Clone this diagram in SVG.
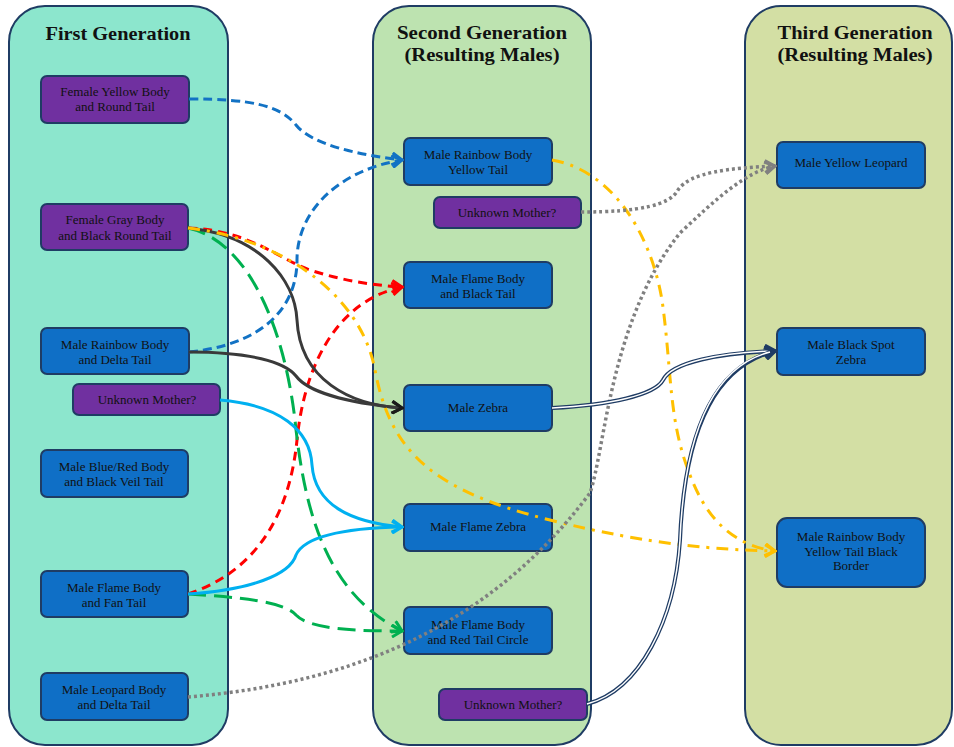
<svg xmlns="http://www.w3.org/2000/svg" width="954" height="747" viewBox="0 0 954 747">
<style>
.col{stroke:#1f3c64;stroke-width:2}
.hdr{font-family:"Liberation Serif","DejaVu Serif",serif;font-weight:bold;font-size:19px;fill:#111;text-anchor:middle}
.nb{fill:#0f6fc6;stroke:#1f3c64;stroke-width:2}
.np{fill:#7030a0;stroke:#1f3c64;stroke-width:2}
.t{font-family:"Liberation Serif","DejaVu Serif",serif;font-size:13px;fill:#111;text-anchor:middle}
.c{fill:none}
.blue{stroke:#1272c4;stroke-width:3;stroke-dasharray:9 5}
.red{stroke:#ff0000;stroke-width:3;stroke-dasharray:9 6}
.blk{stroke:#3a3a3a;stroke-width:3}
.yel{stroke:#ffc000;stroke-width:3;stroke-dasharray:12 7 3 7}
.grn{stroke:#00b050;stroke-width:3;stroke-dasharray:18 8}
.cyan{stroke:#00b0f0;stroke-width:3}
.gray{stroke:#808080;stroke-width:3.5;stroke-dasharray:3 3}
.nv{stroke:#1f3c64;stroke-width:4}
.nvi{stroke:#ffffff;stroke-width:1.5}
</style>
<defs>
<marker id="aBlue" markerUnits="userSpaceOnUse" viewBox="0 0 14 14" refX="12" refY="7" markerWidth="14" markerHeight="14" orient="auto"><path d="M2,1 L12,7 L2,13" fill="none" stroke="#1272c4" stroke-width="3"/></marker>
<marker id="aRed" markerUnits="userSpaceOnUse" viewBox="0 0 14 14" refX="12" refY="7" markerWidth="14" markerHeight="14" orient="auto"><path d="M2,1 L12,7 L2,13" fill="none" stroke="#ff0000" stroke-width="3"/></marker>
<marker id="aBlk" markerUnits="userSpaceOnUse" viewBox="0 0 14 14" refX="12" refY="7" markerWidth="14" markerHeight="14" orient="auto"><path d="M2,1 L12,7 L2,13" fill="none" stroke="#1a1a1a" stroke-width="3"/></marker>
<marker id="aYel" markerUnits="userSpaceOnUse" viewBox="0 0 14 14" refX="12" refY="7" markerWidth="14" markerHeight="14" orient="auto"><path d="M2,1 L12,7 L2,13" fill="none" stroke="#ffc000" stroke-width="3"/></marker>
<marker id="aGrn" markerUnits="userSpaceOnUse" viewBox="0 0 14 14" refX="12" refY="7" markerWidth="14" markerHeight="14" orient="auto"><path d="M2,1 L12,7 L2,13" fill="none" stroke="#00b050" stroke-width="3"/></marker>
<marker id="aCyan" markerUnits="userSpaceOnUse" viewBox="0 0 14 14" refX="12" refY="7" markerWidth="14" markerHeight="14" orient="auto"><path d="M2,1 L12,7 L2,13" fill="none" stroke="#00b0f0" stroke-width="3"/></marker>
<marker id="aGray" markerUnits="userSpaceOnUse" viewBox="0 0 14 14" refX="12" refY="7" markerWidth="14" markerHeight="14" orient="auto"><path d="M2,1 L12,7 L2,13" fill="none" stroke="#808080" stroke-width="3"/></marker>
<marker id="aNv" markerUnits="userSpaceOnUse" viewBox="0 0 14 14" refX="12" refY="7" markerWidth="14" markerHeight="14" orient="auto"><path d="M2,1 L12,7 L2,13" fill="none" stroke="#1f3c64" stroke-width="3.5"/></marker>
</defs>
<g id="columns">
<rect id="col1" class="col" x="9" y="6" width="219" height="739" rx="36" fill="#8ce6cd"/>
<rect id="col2" class="col" x="373" y="6" width="218" height="739" rx="36" fill="#bde3b0"/>
<rect id="col3" class="col" x="745" y="6" width="207" height="739" rx="36" fill="#d3dfa4"/>
<text class="hdr" x="118" y="40" textLength="145" lengthAdjust="spacingAndGlyphs">First Generation</text>
<text class="hdr" x="482" y="39" textLength="170" lengthAdjust="spacingAndGlyphs">Second Generation</text>
<text class="hdr" x="482" y="61" textLength="155" lengthAdjust="spacingAndGlyphs">(Resulting Males)</text>
<text class="hdr" x="855" y="39" textLength="155" lengthAdjust="spacingAndGlyphs">Third Generation</text>
<text class="hdr" x="855" y="61" textLength="155" lengthAdjust="spacingAndGlyphs">(Resulting Males)</text>
</g>
<g id="n1"><rect class="np" x="41" y="76" width="148" height="47" rx="6"/><text class="t" x="115" y="96">Female Yellow Body</text><text class="t" x="115" y="111">and Round Tail</text></g>
<g id="n2"><rect class="np" x="41" y="204" width="147" height="46" rx="6"/><text class="t" x="115" y="224">Female Gray Body</text><text class="t" x="115" y="240">and Black Round  Tail</text></g>
<g id="n3"><rect class="nb" x="41" y="328" width="148" height="46" rx="6"/><text class="t" x="115" y="349">Male Rainbow  Body</text><text class="t" x="115" y="364">and Delta  Tail</text></g>
<g id="n4"><rect class="np" x="73" y="384" width="147" height="31" rx="6"/><text class="t" x="147" y="404">Unknown  Mother?</text></g>
<g id="n5"><rect class="nb" x="41" y="450" width="147" height="47" rx="6"/><text class="t" x="114" y="471">Male Blue/Red  Body</text><text class="t" x="114" y="486">and Black Veil  Tail</text></g>
<g id="n6"><rect class="nb" x="41" y="571" width="147" height="46" rx="6"/><text class="t" x="114" y="592">Male Flame Body</text><text class="t" x="114" y="607">and Fan  Tail</text></g>
<g id="n7"><rect class="nb" x="41" y="673" width="147" height="47" rx="6"/><text class="t" x="114" y="694">Male Leopard  Body</text><text class="t" x="114" y="709">and Delta Tail</text></g>
<g id="m1"><rect class="nb" x="404" y="138" width="148" height="47" rx="6"/><text class="t" x="478" y="159">Male Rainbow  Body</text><text class="t" x="478" y="174">Yellow Tail</text></g>
<g id="m2"><rect class="np" x="434" y="197" width="147" height="31" rx="6"/><text class="t" x="507" y="217">Unknown  Mother?</text></g>
<g id="m3"><rect class="nb" x="404" y="262" width="148" height="46" rx="6"/><text class="t" x="478" y="283">Male Flame  Body</text><text class="t" x="478" y="298">and Black Tail</text></g>
<g id="m4"><rect class="nb" x="404" y="385" width="148" height="46" rx="6"/><text class="t" x="478" y="412">Male Zebra</text></g>
<g id="m5"><rect class="nb" x="404" y="504" width="148" height="47" rx="6"/><text class="t" x="478" y="531">Male Flame  Zebra</text></g>
<g id="m6"><rect class="nb" x="404" y="607" width="148" height="47" rx="6"/><text class="t" x="478" y="629">Male Flame Body</text><text class="t" x="478" y="644">and Red Tail Circle</text></g>
<g id="m7"><rect class="np" x="439" y="689" width="148" height="31" rx="6"/><text class="t" x="513" y="709">Unknown  Mother?</text></g>
<g id="o1"><rect class="nb" x="777" y="142" width="148" height="46" rx="6"/><text class="t" x="851" y="167">Male Yellow Leopard</text></g>
<g id="o2"><rect class="nb" x="777" y="328" width="148" height="47" rx="6"/><text class="t" x="851" y="349">Male Black Spot</text><text class="t" x="851" y="364">Zebra</text></g>
<g id="o3"><rect class="nb" x="777" y="518" width="148" height="69" rx="10"/><text class="t" x="851" y="541">Male Rainbow  Body</text><text class="t" x="851" y="556">Yellow Tail Black</text><text class="t" x="851" y="570">Border</text></g>
<g id="connectors">
<path class="c blue" d="M189,99 C250,99 280,105 296,125 C312,145 360,155 402,160" marker-end="url(#aBlue)"/>
<path class="c blue" d="M189,352 C260,345 297,310 297,260 C297,210 340,170 402,160" marker-end="url(#aBlue)"/>
<path class="c red" d="M188,228 C250,230 280,260 310,270 C340,280 370,285 402,287" marker-end="url(#aRed)"/>
<path class="c red" d="M188,594 C260,570 290,510 297,440 C305,360 340,300 402,287" marker-end="url(#aRed)"/>
<path class="c grn" d="M188,228 C245,240 283,320 295,420 C305,520 330,595 402,631" marker-end="url(#aGrn)"/>
<path class="c grn" d="M188,594 C240,597 285,602 296,615 C310,630 360,631 402,631" marker-end="url(#aGrn)"/>
<path class="c blk" d="M188,228 C260,235 295,280 297,320 C300,380 350,405 402,408" marker-end="url(#aBlk)"/>
<path class="c blk" d="M189,352 C250,352 285,362 296,376 C310,395 360,404 402,408" marker-end="url(#aBlk)"/>
<path class="c yel" d="M188,228 C290,240 362,300 375,370 C390,450 430,490 550,520 C650,545 720,550 775,551" marker-end="url(#aYel)"/>
<path class="c yel" d="M552,160 C610,170 650,230 662,300 C672,370 668,420 690,475 C705,515 730,545 775,551" marker-end="url(#aYel)"/>
<path class="c cyan" d="M220,400 C280,405 310,430 312,465 C315,505 350,522 402,527" marker-end="url(#aCyan)"/>
<path class="c cyan" d="M188,594 C250,590 290,575 296,555 C305,535 350,528 402,527" marker-end="url(#aCyan)"/>
<path class="c gray" d="M188,697 C330,685 480,640 590,493 C605,450 610,320 680,233 C715,200 745,172 775,166" marker-end="url(#aGray)"/>
<path class="c gray" d="M581,212 C640,212 670,205 678,190 C690,172 730,168 775,166" marker-end="url(#aGray)"/>
<path class="c nv" d="M552,408 C610,405 655,395 663,380 C672,362 720,353 775,351" marker-end="url(#aNv)"/>
<path class="c nvi" d="M552,408 C610,405 655,395 663,380 C672,362 720,353 770,351"/>
<path class="c nv" d="M587,704 C640,690 675,620 680,540 C685,420 720,365 775,351" marker-end="url(#aNv)"/>
<path class="c nvi" d="M587,704 C640,690 675,620 680,540 C685,420 720,365 770,352"/>
</g>
</svg>
